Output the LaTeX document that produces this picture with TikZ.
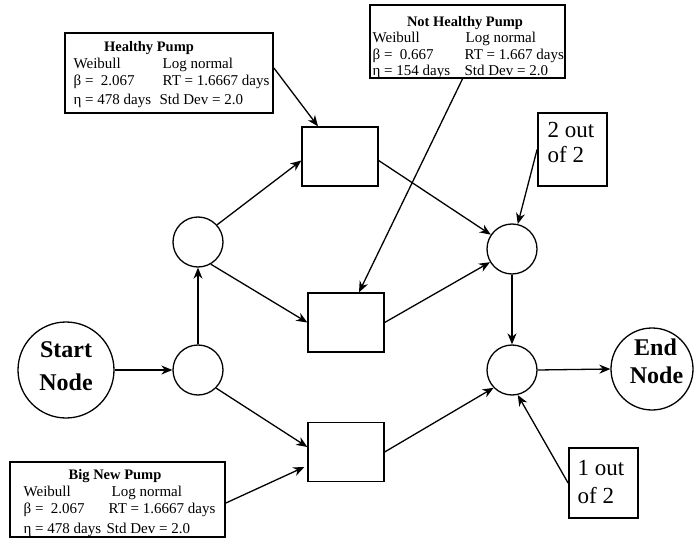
\documentclass[tikz,border=0pt]{standalone}
\usepackage{fontspec}
\setmainfont{Liberation Serif}
\usetikzlibrary{arrows.meta,calc}
\begin{document}
\begin{tikzpicture}[x=1pt,y=-1pt,
  line width=1.3pt,
  arr/.style={-{Stealth[length=11pt,width=9pt,inset=3.5pt]}},
  place/.style={draw,circle,minimum size=50pt,inner sep=0pt},
  trans/.style={draw,rectangle,minimum width=76pt,minimum height=59pt,inner sep=0pt},
  bignode/.style={draw,circle,inner sep=0pt},
  infobox/.style={draw,rectangle,inner sep=0pt,line width=1.8pt},
  txt/.style={anchor=base west,inner sep=0pt,font=\fontsize{15}{18}\selectfont},
  ttl/.style={anchor=base,inner sep=0pt,font=\fontsize{14.5}{17}\selectfont\bfseries},
  bigtxt/.style={anchor=base,inner sep=0pt,font=\fontsize{24}{28}\selectfont\bfseries},
  ruletxt/.style={anchor=base west,inner sep=0pt,font=\fontsize{23}{26}\selectfont}]
\useasboundingbox (0,0) rectangle (694,543);

% places and transitions
\node[place] (C1) at (198,242) {};
\node[place] (C2) at (198,370) {};
\node[place] (C3) at (512,249) {};
\node[place] (C4) at (512,370) {};
\node[trans] (R1) at (340,156.5) {};
\node[trans] (R2) at (346,322.5) {};
\node[trans] (R3) at (346,452) {};
\node[bignode,minimum size=96pt] (S) at (66,370) {};
\node[bignode,minimum size=82pt] (E) at (652,369) {};

\node[bigtxt] (s1) at (66,357) {Start};
\node[bigtxt] (s2) at (66,390) {Node};
\node[bigtxt] (e1) at (655.5,355) {End};
\node[bigtxt] (e2) at (656.5,383) {Node};

% info boxes
\node[infobox,minimum width=208pt,minimum height=80pt] (HB) at (169,73) {};
\node[ttl] (hbt) at (149,52) {Healthy Pump};
\node[txt] (hb1) at (73,69) {Weibull};
\node[txt] (hb2) at (162,69) {Log normal};
\node[txt] (hb3) at (73,86) {β =\ \ 2.067};
\node[txt] (hb4) at (162,86) {RT = 1.6667 days};
\node[txt] (hb5) at (73,105) {η = 478 days};
\node[txt] (hb6) at (159,105) {Std Dev = 2.0};

\node[infobox,minimum width=195pt,minimum height=73pt] (NH) at (467.5,41.5) {};
\node[ttl] (nht) at (465,27) {Not Healthy Pump};
\node[txt] (nh1) at (372,43) {Weibull};
\node[txt] (nh2) at (465,43) {Log normal};
\node[txt] (nh3) at (372,60) {β =\ \ 0.667};
\node[txt] (nh4) at (464,60) {RT = 1.667 days};
\node[txt] (nh5) at (372,76) {η = 154 days};
\node[txt] (nh6) at (464,76) {Std Dev = 2.0};

\node[infobox,minimum width=215pt,minimum height=75pt] (BN) at (117.5,499.5) {};
\node[ttl] (bnt) at (115,479) {Big New Pump};
\node[txt] (bn1) at (23,496) {Weibull};
\node[txt] (bn2) at (111,496) {Log normal};
\node[txt] (bn3) at (23,513) {β =\ \ 2.067};
\node[txt] (bn4) at (108,513) {RT = 1.6667 days};
\node[txt] (bn5) at (23,533) {η = 478 days};
\node[txt] (bn6) at (106,533) {Std Dev = 2.0};

\node[infobox,minimum width=69pt,minimum height=73pt] (TW) at (572.5,149.5) {};
\node[ruletxt] (tw1) at (547,137) {2 out};
\node[ruletxt] (tw2) at (547,162) {of 2};
\node[infobox,minimum width=69pt,minimum height=70pt] (ON) at (603.5,483) {};
\node[ruletxt] (on1) at (577,475) {1 out};
\node[ruletxt] (on2) at (577,503) {of 2};

% connectors
\draw[arr] (S.east) -- (C2.west);
\draw[arr] (C2.north) -- (C1.south);
\draw[arr] (C1.42) -- ($(R1.west)+(0,4)$);
\draw[arr] (C1.-60) -- (R2.west);
\draw[arr] (C2.-45) -- ($(R3.west)+(0,-5)$);
\draw[arr] ($(R1.east)+(0,4)$) -- (C3.146);
\draw[arr] (R2.east) -- (C3.211);
\draw[arr] (R3.east) -- (C4.224);
\draw[arr] (C3.south) -- (C4.north);
\draw[arr] (C4.east) -- (E.west);
\draw[arr] ($(HB.east)+(0,-5)$) -- ($(R1.north)+(-22,0)$);
\draw[arr] ($(NH.south)+(-5,0)$) -- ($(R2.north)+(13,0)$);
\draw[arr] ($(BN.east)+(0,3.5)$) -- ($(R3.west)+(-3,15)$);
\draw[arr] (TW.west) -- (C3.77);
\draw[arr] (ON.west) -- (C4.-77);
\end{tikzpicture}
\end{document}
